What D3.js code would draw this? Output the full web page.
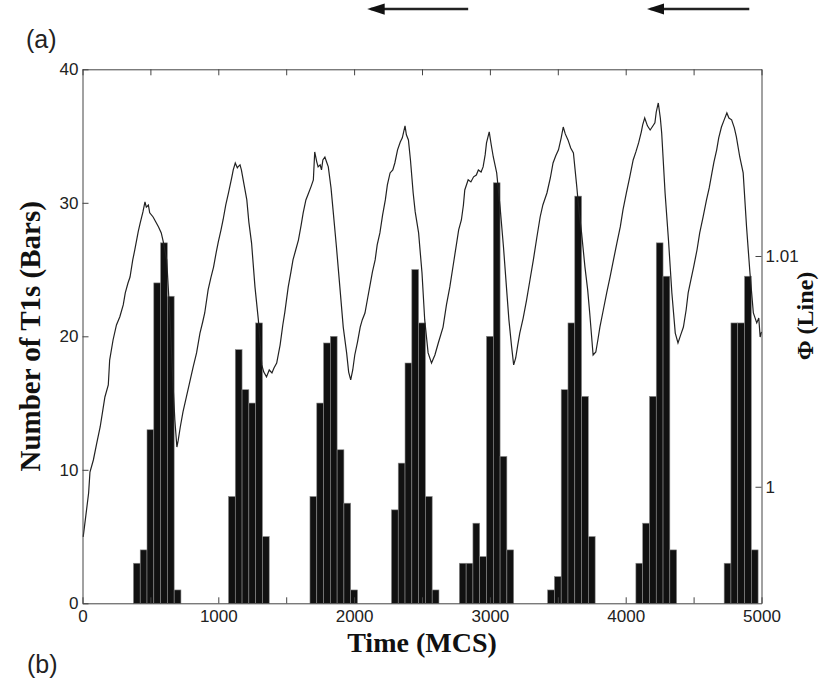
<!DOCTYPE html>
<html>
<head>
<meta charset="utf-8">
<script src="https://cdn.jsdelivr.net/npm/d3@7"></script>
<style>
  body { margin: 0; background: #fff; }
  svg { display: block; }
  .tick text { font-family: "Liberation Sans", Arial, sans-serif; font-size: 17px; fill: #222; }
</style>
</head>
<body>
<div id="graphic"></div>
<script>
'use strict';

// Histogram of T1 events: bin centres (MCS, bins 50 wide) and counts
const binCenters = [
  400, 450, 500, 550, 600, 650, 700,
  1100, 1150, 1200, 1250, 1300, 1350,
  1700, 1750, 1800, 1850, 1900, 1950, 2000,
  2300, 2350, 2400, 2450, 2500, 2550, 2600,
  2800, 2850, 2900, 2950, 3000, 3050, 3100, 3150,
  3450, 3500, 3550, 3600, 3650, 3700, 3750,
  4100, 4150, 4200, 4250, 4300, 4350,
  4750, 4800, 4850, 4900, 4950
];
const t1Counts = [
  3, 4, 13, 24, 27, 23, 1,
  8, 19, 16, 15, 21, 5,
  8, 15, 19.5, 20, 11.5, 7.5, 1,
  7, 10.5, 18, 25, 21, 8, 1,
  3, 3, 6, 3.5, 20, 31.5, 11, 4,
  1, 2, 16, 21, 30.5, 15.5, 5,
  3, 6, 15.5, 27, 24.5, 4,
  3, 21, 21, 24.5, 4
];
const binWidth = 50;

// Phi (line)
const phiTime = [
  5, 25, 45, 55, 80, 105, 130, 150, 165, 190, 200, 225, 250, 275, 300, 315, 335, 350, 370, 385,
  410, 425, 445, 460, 470, 485, 495, 520, 540, 560, 580, 595, 620, 645, 665, 680, 695, 705, 720, 740,
  765, 790, 815, 840,
  865, 885, 900, 925, 945, 965, 985, 1000, 1020, 1035, 1055, 1075, 1100, 1110, 1125, 1140, 1145, 1160,
  1170, 1190, 1210, 1225, 1245, 1270, 1295, 1320, 1335, 1355, 1375, 1395, 1410, 1430, 1455,
  1475, 1490, 1515, 1535, 1550, 1570, 1590, 1610, 1625, 1645, 1665, 1685, 1700, 1710, 1725, 1735,
  1750, 1760, 1770, 1785, 1800, 1810, 1830, 1845, 1870, 1895, 1920, 1945, 1960, 1975, 1990, 2005,
  2025, 2045, 2060, 2080, 2100, 2115, 2135, 2155, 2170, 2190, 2210, 2230, 2245, 2265, 2285, 2300,
  2320, 2340, 2355, 2375, 2385, 2400, 2415, 2435, 2450, 2475, 2500, 2520, 2545, 2570, 2595, 2620,
  2655, 2680,
  2705, 2730, 2755, 2770, 2790, 2805, 2815, 2840, 2860, 2880, 2900, 2915, 2935, 2950, 2965, 2975,
  2995, 3010, 3025, 3050, 3075, 3100, 3125, 3140, 3160, 3175, 3190, 3205, 3220, 3245, 3270, 3295,
  3320, 3345,
  3370, 3390, 3420, 3445, 3465, 3485, 3505, 3525, 3540, 3555, 3575, 3595, 3615, 3640, 3655, 3675,
  3700, 3720, 3735, 3760, 3780, 3795, 3810, 3835, 3860, 3885,
  3910, 3935, 3960, 3980, 4005, 4030, 4055, 4075, 4095, 4115, 4125, 4140, 4160, 4180, 4195, 4215,
  4225, 4240, 4255, 4265, 4290, 4315, 4340, 4365, 4385, 4405, 4425, 4445, 4460, 4480,
  4500, 4525, 4545, 4570, 4595, 4615, 4635, 4650, 4670, 4685, 4705, 4725, 4745, 4760, 4780, 4800,
  4815, 4840, 4865, 4890, 4915, 4940, 4965, 4980, 4990, 5000
];
const phiValue = [
  0.99783, 0.99877, 0.99973, 1.00064, 1.00116, 1.00189, 1.00259, 1.00333, 1.00389, 1.00441,
  1.00549, 1.00636, 1.00701, 1.00737, 1.00788, 1.0084, 1.00883, 1.00909, 1.00983, 1.01026,
  1.01104, 1.01143, 1.01191, 1.01234, 1.01212, 1.01221, 1.01187, 1.01169, 1.01147, 1.01126,
  1.011, 1.01061, 1.00983, 1.00723, 1.00463, 1.00289, 1.00172, 1.00202, 1.00259, 1.00324,
  1.00389, 1.00454, 1.00519, 1.0058,
  1.00666, 1.00714, 1.00753, 1.00853, 1.00905, 1.00952, 1.01017, 1.01061, 1.01113, 1.01156,
  1.01221, 1.01273, 1.01343, 1.01373, 1.01403, 1.01382, 1.01386, 1.01395,
  1.01373, 1.01308, 1.01243, 1.01147, 1.01056, 1.00866, 1.00723, 1.00528, 1.00497, 1.00476,
  1.00506, 1.00493, 1.00515, 1.00536, 1.00614,
  1.00701, 1.00757, 1.00866, 1.00931, 1.00983, 1.01026, 1.01069, 1.01134, 1.01187, 1.01243,
  1.01273, 1.01304, 1.0133, 1.01451, 1.01408, 1.01386,
  1.01395, 1.01373, 1.01416, 1.01429, 1.01403, 1.01386, 1.01295, 1.012, 1.01039, 1.00866,
  1.00692, 1.0058, 1.00497, 1.00463, 1.00506, 1.00571,
  1.00627, 1.00692, 1.00723, 1.00753, 1.00818, 1.00866, 1.00931, 1.00983, 1.01048, 1.011,
  1.01178, 1.01243, 1.01308, 1.0136, 1.01373, 1.01403,
  1.0146, 1.01494, 1.01512, 1.01564, 1.01525, 1.01503, 1.01416, 1.01273, 1.01191, 1.011,
  1.00926, 1.00723, 1.0058, 1.00536, 1.00571, 1.00623,
  1.00692, 1.00788,
  1.00866, 1.00961, 1.01056, 1.01113, 1.01156, 1.01221, 1.01286, 1.0133, 1.01321, 1.01343,
  1.01351, 1.01373, 1.01364, 1.01386, 1.01438, 1.0149,
  1.01538, 1.01481, 1.01429, 1.0136, 1.01212, 1.01039, 1.0084, 1.00723, 1.00606, 1.00528,
  1.00558, 1.00614, 1.00666, 1.00731, 1.00809, 1.00896,
  1.00983, 1.01078,
  1.01169, 1.01221, 1.01273, 1.01338, 1.01403, 1.01434, 1.0146, 1.01512, 1.01559, 1.01529,
  1.01503, 1.01468, 1.01447, 1.01299, 1.012, 1.011,
  1.00952, 1.00853, 1.00753, 1.00571, 1.00584, 1.00636, 1.00692, 1.00766, 1.0084, 1.00909,
  1.00983, 1.01056, 1.01126, 1.012, 1.01273, 1.01343, 1.01416, 1.01451, 1.0149, 1.01538,
  1.01568, 1.01598, 1.01564, 1.01546, 1.01559, 1.01577,
  1.01624, 1.01663, 1.01598, 1.01533, 1.01273, 1.01069, 1.0084, 1.00666, 1.00623, 1.00658,
  1.00692, 1.00766, 1.0084, 1.00896,
  1.00952, 1.01026, 1.011, 1.01169, 1.01243, 1.01295, 1.0136, 1.01408, 1.0146, 1.01512,
  1.01559, 1.0159, 1.0162, 1.01598, 1.0159, 1.01555,
  1.01516, 1.01429, 1.0136, 1.01126, 1.00926, 1.00753, 1.0071, 1.00731, 1.00649, 1.00671
];

const xTicks = d3.range(0, 5001, 500);
const xTickLabels = [0, 1000, 2000, 3000, 4000, 5000];
const leftTicks = [0, 10, 20, 30, 40];
const rightTicks = [1, 1.01];

// arrows above the plot, in MCS (tail -> head)
const arrowFrom = [2840, 4910];
const arrowTo = [2100, 4160];

const width = 821;
const height = 680;
const margin = { top: 69.3, right: 59.5, bottom: 76.7, left: 82.5 };

const svg = d3
  .select(`#graphic`)
  .append(`svg`)
  .attr(`width`, width)
  .attr(`height`, height);

const x = d3.scaleLinear().domain([0, 5000]).range([margin.left, width - margin.right]);
const yL = d3.scaleLinear().domain([0, 40]).range([height - margin.bottom, margin.top]);
const yR = d3.scaleLinear().domain([0.99495, 1.01809]).range([height - margin.bottom, margin.top]);

const axisColor = `#444`;

// Bars
svg
  .append(`g`)
  .selectAll(`rect`)
  .data(binCenters)
  .join(`rect`)
  .attr(`x`, (d) => x(d - binWidth / 2))
  .attr(`width`, (d) => x(d + binWidth / 2) - x(d - binWidth / 2))
  .attr(`y`, (d, i) => yL(t1Counts[i]))
  .attr(`height`, (d, i) => yL(0) - yL(t1Counts[i]))
  .attr(`fill`, `#111`)
  .attr(`stroke`, `#8a8a8a`)
  .attr(`stroke-width`, 0.6);

// Phi line
const line = d3
  .line()
  .x((d, i) => x(phiTime[i]))
  .y((d) => yR(d));

svg
  .append(`path`)
  .attr(`d`, line(phiValue))
  .attr(`fill`, `none`)
  .attr(`stroke`, `#222`)
  .attr(`stroke-width`, 1.2);

// Axes
const styleAxis = (g) => {
  g.select(`.domain`).attr(`stroke`, axisColor);
  g.selectAll(`.tick line`).attr(`stroke`, axisColor);
};

svg
  .append(`g`)
  .attr(`transform`, `translate(0,${yL(0)})`)
  .call(
    d3
      .axisBottom(x)
      .tickValues(xTicks)
      .tickSize(-6)
      .tickSizeOuter(0)
      .tickPadding(7)
      .tickFormat((d) => (xTickLabels.includes(d) ? d : ``))
  )
  .call(styleAxis);

svg
  .append(`g`)
  .attr(`transform`, `translate(0,${yL(40)})`)
  .call(d3.axisTop(x).tickValues(xTicks).tickSize(-6).tickSizeOuter(0).tickFormat(``))
  .call(styleAxis);

svg
  .append(`g`)
  .attr(`transform`, `translate(${x(0)},0)`)
  .call(d3.axisLeft(yL).tickValues(leftTicks).tickSize(-6).tickSizeOuter(0).tickPadding(4))
  .call(styleAxis);

svg
  .append(`g`)
  .attr(`transform`, `translate(${x(5000)},0)`)
  .call(
    d3
      .axisRight(yR)
      .tickValues(rightTicks)
      .tickSize(-6)
      .tickSizeOuter(0)
      .tickPadding(4)
      .tickFormat((d) => (d === 1 ? `1` : d3.format(`.2f`)(d)))
  )
  .call(styleAxis);

// Axis titles
const serif = `"Liberation Serif", "Times New Roman", serif`;

svg
  .append(`text`)
  .attr(`x`, (x(0) + x(5000)) / 2)
  .attr(`y`, 652)
  .attr(`text-anchor`, `middle`)
  .attr(`font-family`, serif)
  .attr(`font-weight`, `bold`)
  .attr(`font-size`, 28)
  .attr(`fill`, `#111`)
  .text(`Time (MCS)`);

svg
  .append(`text`)
  .attr(`transform`, `translate(40,${(yL(0) + yL(40)) / 2}) rotate(-90)`)
  .attr(`text-anchor`, `middle`)
  .attr(`font-family`, serif)
  .attr(`font-weight`, `bold`)
  .attr(`font-size`, 29)
  .attr(`fill`, `#111`)
  .text(`Number of T1s (Bars)`);

svg
  .append(`text`)
  .attr(`transform`, `translate(813,316) rotate(-90)`)
  .attr(`text-anchor`, `middle`)
  .attr(`font-family`, serif)
  .attr(`font-weight`, `bold`)
  .attr(`font-size`, 24)
  .attr(`fill`, `#111`)
  .text(`Φ (Line)`);

// Panel letters
const sans = `"Liberation Sans", Arial, sans-serif`;
svg
  .append(`text`)
  .attr(`x`, 26)
  .attr(`y`, 48)
  .attr(`font-family`, sans)
  .attr(`font-size`, 25)
  .attr(`fill`, `#222`)
  .text(`(a)`);
svg
  .append(`text`)
  .attr(`x`, 27)
  .attr(`y`, 673)
  .attr(`font-family`, sans)
  .attr(`font-size`, 25)
  .attr(`fill`, `#222`)
  .text(`(b)`);

// Arrows
svg
  .append(`defs`)
  .append(`marker`)
  .attr(`id`, `head`)
  .attr(`viewBox`, `0 0 10 10`)
  .attr(`refX`, 8)
  .attr(`refY`, 5)
  .attr(`markerWidth`, 7)
  .attr(`markerHeight`, 4.5)
  .attr(`markerUnits`, `strokeWidth`)
  .attr(`orient`, `auto`)
  .attr(`preserveAspectRatio`, `none`)
  .append(`path`)
  .attr(`d`, `M0,0L10,5L0,10Z`)
  .attr(`fill`, `#111`);

svg
  .append(`g`)
  .selectAll(`line`)
  .data(arrowFrom)
  .join(`line`)
  .attr(`x1`, (d) => x(d))
  .attr(`x2`, (d, i) => x(arrowTo[i]) + 3)
  .attr(`y1`, 9)
  .attr(`y2`, 9)
  .attr(`stroke`, `#222`)
  .attr(`stroke-width`, 2.5)
  .attr(`marker-end`, `url(#head)`);
</script>
</body>
</html>
